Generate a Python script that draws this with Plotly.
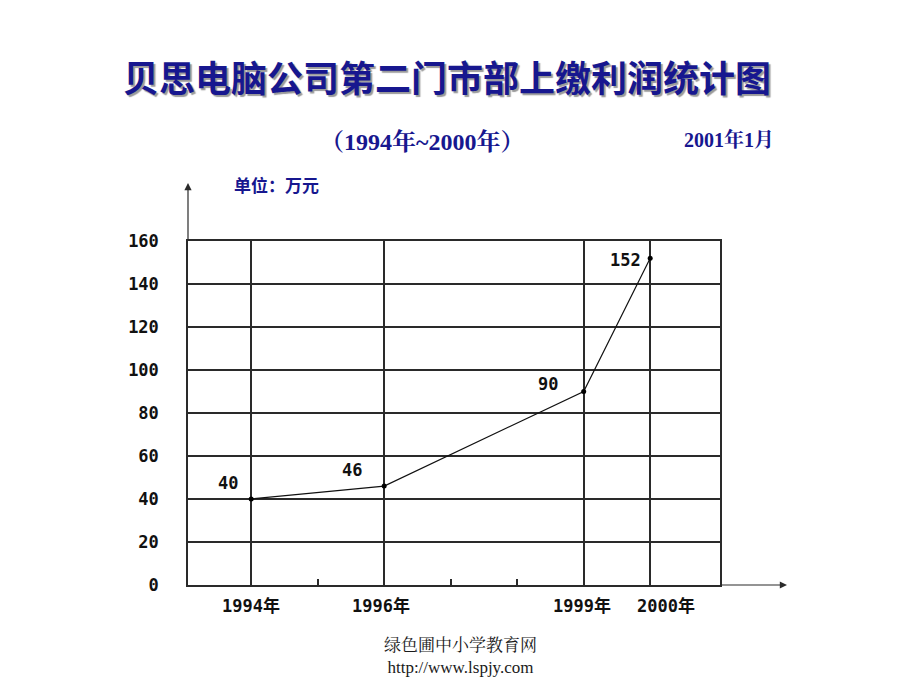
import plotly.graph_objects as go

# ---- data ----
years = [1994, 1996, 1999, 2000]
profits = [40, 46, 90, 152]
x_labels = ["1994年", "1996年", "1999年", "2000年"]
y_ticks = [0, 20, 40, 60, 80, 100, 120, 140, 160]
minor_years = [1995, 1997, 1998]

# ---- styles ----
BLUE = "#17178f"
GRID = "#2a2a2a"
MONO = "DejaVu Sans Mono, Noto Sans CJK SC, sans-serif"
TF = "Noto Sans CJK SC, sans-serif"
SERIF = "Liberation Serif, Noto Serif CJK SC, Noto Sans CJK SC, serif"
label_shift = [(-23, 16), (-32, 16), (-36, 8), (-25, -2)]
xlabel_shift = [0, -3, -2, 16]

L, R, T, B = 188, 200, 241, 105
PW, PH = 920 - L - R, 690 - T - B
def px(x):
    return (x - L) / PW
def py(y):
    return (690 - B - y) / PH

fig = go.Figure()
fig.add_trace(go.Scatter(
    x=years, y=profits, mode="lines+markers",
    line=dict(color="#111", width=1.2),
    marker=dict(color="#000", size=5),
    hoverinfo="skip", showlegend=False,
))

ann = []
for (x, y, (dx, dy)) in zip(years, profits, label_shift):
    ann.append(dict(x=x, y=y, xref="x", yref="y", text=str(y), showarrow=False,
                    xshift=dx, yshift=dy, xanchor="center", yanchor="middle",
                    font=dict(family=MONO, size=17, color="#111", weight="bold")))
for x, t, dx in zip(years, x_labels, xlabel_shift):
    ann.append(dict(x=x, y=0, xref="x", yref="y", text=t, showarrow=False,
                    xanchor="center", yanchor="middle", yshift=-21, xshift=dx,
                    font=dict(family=MONO, size=17, color="#111", weight="bold")))

title = "贝思电脑公司第二门市部上缴利润统计图"
def paper_text(t, x, y, font):
    return dict(x=px(x), y=py(y), xref="paper", yref="paper", text=t, showarrow=False,
                xanchor="center", yanchor="middle", font=font)

ann.append(paper_text(title, 447, 76, dict(family=TF, size=36, color=BLUE, weight="bold",
                                            shadow="2px 2px 1px #9a9a9a")))
ann.append(paper_text("（1994年~2000年）", 422, 142, dict(family=SERIF, size=24, color=BLUE, weight="bold")))
ann.append(paper_text("2001年1月", 729, 140, dict(family=SERIF, size=20, color=BLUE, weight="bold")))
ann.append(paper_text("单位：万元", 276, 185, dict(family=TF, size=17, color=BLUE, weight="bold")))
ann.append(paper_text("绿色圃中小学教育网<br>http://www.lspjy.com", 460, 656,
                      dict(family="Liberation Serif, Noto Serif CJK SC, serif", size=17, color="#1a1a1a")))

# axis arrows
ann.append(dict(x=0, y=py(183), xref="paper", yref="paper", ax=0, ay=58, text="",
                showarrow=True, arrowhead=2, arrowsize=1.2, arrowwidth=1.2, arrowcolor=GRID))
ann.append(dict(x=px(787), y=0, xref="paper", yref="paper", ax=-67, ay=0, text="",
                showarrow=True, arrowhead=2, arrowsize=1.2, arrowwidth=1.2, arrowcolor=GRID))

fig.update_layout(
    width=920, height=690,
    margin=dict(l=L, r=R, t=T, b=B, pad=0),
    paper_bgcolor="white", plot_bgcolor="white",
    annotations=ann,
    xaxis=dict(range=[1993.05, 2001.05], tickvals=years + [2001.05], showticklabels=False,
               showgrid=True, gridcolor=GRID, gridwidth=1.5, zeroline=False,
               showline=True, linecolor=GRID, linewidth=1.5, mirror=True, ticks="",
               minor=dict(tickmode="array", tickvals=minor_years, ticks="inside",
                          ticklen=6, tickcolor=GRID, tickwidth=1.5, showgrid=False)),
    yaxis=dict(range=[0, 160], tickvals=y_ticks, ticktext=[str(v) for v in y_ticks],
               showgrid=True, gridcolor=GRID, gridwidth=1.5, zeroline=False,
               showline=True, linecolor=GRID, linewidth=1.5, mirror=True, ticks="",
               ticklabelstandoff=24,
               tickfont=dict(family=MONO, size=17, color="#111", weight="bold")),
)

fig.write_html("out.html")
